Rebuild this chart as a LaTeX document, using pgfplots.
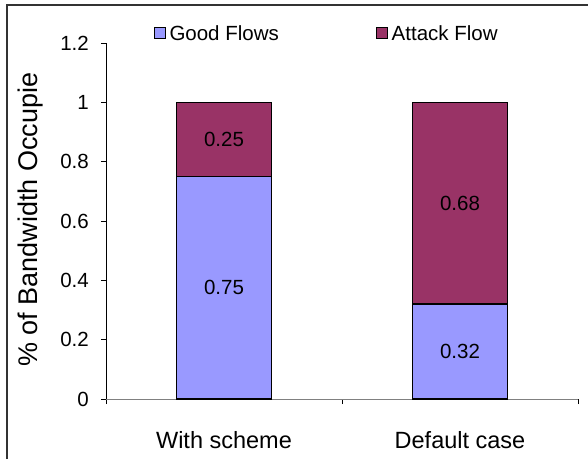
\documentclass[border=0pt]{standalone}
\usepackage{fontspec}
\setmainfont{Liberation Sans}
\usepackage{pgfplots}
\pgfplotsset{compat=1.18}
\definecolor{goodblue}{HTML}{9999FF}
\definecolor{attackred}{HTML}{993366}
\definecolor{axisgray}{HTML}{808080}
\begin{document}
\begin{tikzpicture}[x=1pt,y=1pt]
\path[use as bounding box] (0,0) rectangle (588,459);
% chart frame (left and top edges)
\draw[black!80, line width=1.3pt] (7,0) -- (7,454) -- (588,454);
\begin{axis}[
  at={(106pt,60pt)}, anchor=south west,
  scale only axis, width=472pt, height=356pt,
  ybar stacked, bar width=95pt,
  xmin=-0.5, xmax=1.5, ymin=0, ymax=1.2,
  /pgf/number format/assume math mode=true,
  axis lines*=left,
  x axis line style={axisgray, line width=1pt},
  y axis line style={black, line width=0.8pt},
  tick pos=left, tick align=outside, major tick length=5pt,
  tick style={black, line width=0.8pt},
  ytick={0,0.2,0.4,0.6,0.8,1,1.2},
  yticklabels={0,0.2,0.4,0.6,0.8,1,1.2},
  yticklabel style={font=\fontsize{20.5}{24}\selectfont, inner sep=0pt, xshift=-12pt},
  xtick={-0.5,0.5,1.5}, xticklabels={},
  extra x ticks={0,1},
  extra x tick labels={With scheme,Default case},
  extra x tick style={major tick length=0pt,
    tick label style={font=\fontsize{23.5}{28}\selectfont, anchor=base, yshift=-49pt}},
  ylabel={\% of Bandwidth Occupie},
  ylabel style={font=\fontsize{27}{31}\selectfont, rotate=0, anchor=west,
    at={(axis description cs:-0.159,0.08)}},
  legend style={draw=none, fill=none, legend columns=2, inner sep=0pt,
    at={(axis description cs:0.1017,1.027)}, anchor=west,
    font=\fontsize{20.5}{24}\selectfont,
    nodes={inner sep=1.5pt},
    /tikz/every odd column/.append style={column sep=2pt},
    /tikz/every even column/.append style={column sep=96pt}},
  legend image code/.code={\draw[#1, draw=black, line width=0.8pt] (0pt,-5.5pt) rectangle (11pt,5.5pt);},
  % value labels sit in the middle of each stacked segment
  point meta=explicit,
  nodes near coords,
  every node near coord/.append style={font=\fontsize{20.5}{24}\selectfont,
    anchor=center, black},
]
\addplot[fill=goodblue, draw=black, line width=1.2pt] coordinates {(0,0.75) [0.75] (1,0.32) [0.32]};
\addplot[fill=attackred, draw=black, line width=1.2pt] coordinates {(0,0.25) [0.25] (1,0.68) [0.68]};
\legend{Good Flows, Attack Flow}
\end{axis}
\end{tikzpicture}
\end{document}
